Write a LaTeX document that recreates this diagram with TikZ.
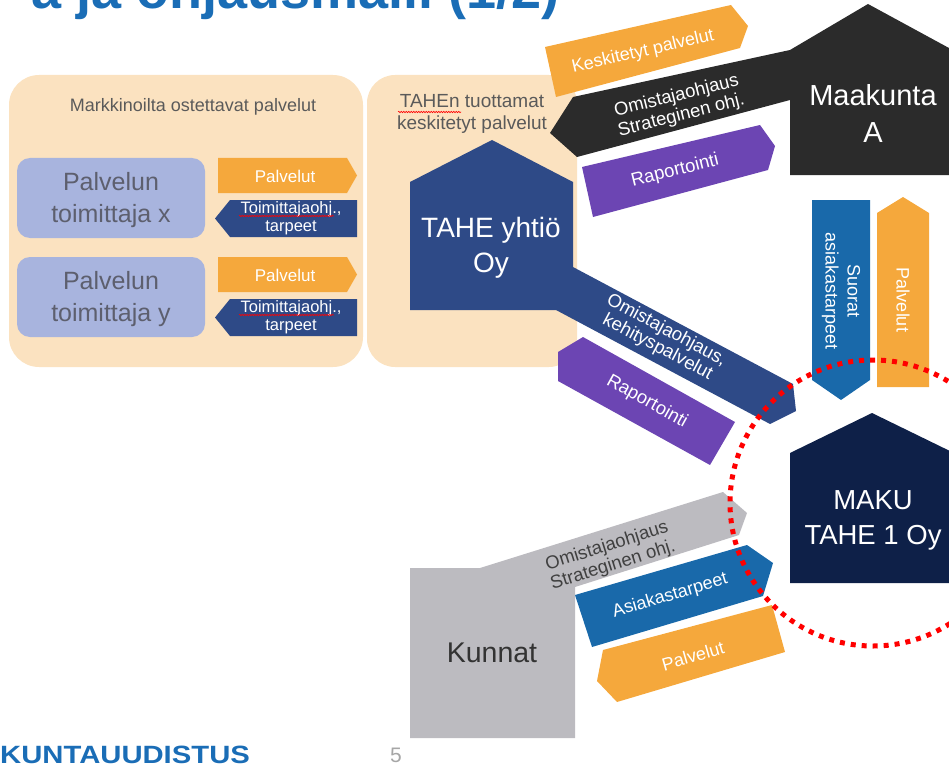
\documentclass[tikz,border=0pt]{standalone}
\usepackage{fontspec}
\setmainfont{Liberation Sans}
\usetikzlibrary{decorations.pathmorphing}

\definecolor{peach}{HTML}{FBE2C0}
\definecolor{lavender}{HTML}{A8B4DE}
\definecolor{oranssi}{HTML}{F5A83C}
\definecolor{tahenavy}{HTML}{2E4A87}
\definecolor{makunavy}{HTML}{0E2048}
\definecolor{violetti}{HTML}{6C45B3}
\definecolor{sininen}{HTML}{1969AA}
\definecolor{musta}{HTML}{2B2B2B}
\definecolor{harmaa}{HTML}{BCBBC0}
\definecolor{otsikko}{HTML}{1A6DB6}
\definecolor{tekstiharmaa}{HTML}{5A5A5A}
\definecolor{toimharmaa}{HTML}{5D5F6E}
\definecolor{sivuharmaa}{HTML}{A6A6A6}

\newcommand{\fs}[2]{\fontsize{#1}{#2}\selectfont}

\begin{document}
\begin{tikzpicture}[x=1pt,y=-1pt,
    lbl/.style={inner sep=0pt, align=center, text=white},
    wavy/.style={red, line width=0.6pt, decorate,
      decoration={snake, amplitude=0.7pt, segment length=2.5pt}}]
  \useasboundingbox (0,0) rectangle (949,770);
  \clip (0,0) rectangle (949,770);

  % otsikko, vain alareuna nakyy
  \node[anchor=base east, inner sep=0pt, text=otsikko, font=\bfseries\fs{54}{54}] (otsikko) at (560,9) {a ja ohjausmalli (1/2)};

  % markkinoilta ostettavat palvelut
  \fill[peach, rounded corners=30] (9,75) rectangle (363,367);
  \node[lbl, text=tekstiharmaa, font=\fs{18}{21}] (markkinat) at (193,107) {Markkinoilta ostettavat palvelut};
  \foreach \dy/\nm in {0/x,99/y} {
    \fill[lavender, rounded corners=13] (17,158+\dy) rectangle (205,238+\dy);
    \node[lbl, text=toimharmaa, font=\fs{25}{32}] (toim\nm) at (111,200+\dy) {Palvelun\\toimittaja \nm};
    \fill[oranssi] (218,158+\dy) -- (347,158+\dy) -- (357,175.5+\dy) -- (347,193+\dy) -- (218,193+\dy) -- cycle;
    \node[lbl, font=\fs{17}{17}] (palv\nm) at (285,176+\dy) {Palvelut};
    \fill[tahenavy] (230,200+\dy) -- (357,200+\dy) -- (357,237+\dy) -- (230,237+\dy) -- (215,218.5+\dy) -- cycle;
    \node[lbl, font=\fs{16.5}{18.5}] (ohj\nm) at (291,218+\dy) {Toimittajaohj.,\\tarpeet};
    \draw[wavy] (239,216+\dy) -- (334,216+\dy);
  }

  % TAHEn tuottamat keskitetyt palvelut
  \fill[peach, rounded corners=28] (367,75) rectangle (577,367);
  \node[lbl, text=tekstiharmaa, font=\fs{19}{22}] (keskitetyt) at (472,114) {TAHEn tuottamat\\keskitetyt palvelut};
  \draw[wavy] (398,112) -- (461,112);

  % TAHE yhtio Oy ja sen ohjausnuoli
  \fill[tahenavy] (410,310) -- (410,182) -- (492,140) -- (573,182) -- (573,267) -- (793,384) -- (796,411) -- (770,424) -- (556,310) -- cycle;
  \node[lbl, font=\fs{28}{35}] (tahe) at (491,248) {TAHE yhtiö\\Oy};
  \node[lbl, font=\fs{18.5}{19}, rotate=-28] (kehitys) at (662,339) {Omistajaohjaus,\\kehityspalvelut};
  \fill[violetti] (583,337) -- (735,422) -- (710,465) -- (558,381) -- (558,352) -- cycle;
  \node[lbl, font=\fs{18.5}{18.5}, rotate=-29] (raportA) at (647,402) {Raportointi};

  % Maakunta A
  \fill[oranssi] (545,47) -- (731,5) -- (748,26) -- (740,48) -- (556,97) -- cycle;
  \node[lbl, font=\fs{18}{18}, rotate=13] (keskpalv) at (643,52) {Keskitetyt palvelut};
  \fill[musta] (790,175) -- (790,100) -- (577,157) -- (550,133) -- (573,97) -- (790,50) -- (868,4) -- (960,54) -- (960,175) -- cycle;
  \node[lbl, font=\fs{29}{37}] (maakunta) at (873,113) {Maakunta\\A};
  \node[lbl, font=\fs{18.5}{20}, rotate=14] (ohjausA) at (679,106) {Omistajaohjaus\\Strateginen ohj.};
  \fill[violetti] (582,167) -- (760,125) -- (775,146) -- (768,170) -- (593,217) -- cycle;
  \node[lbl, font=\fs{18.5}{18.5}, rotate=14] (raportB) at (675,171) {Raportointi};

  % pystynuolet
  \fill[sininen] (812,200) -- (870,200) -- (870,380) -- (841,400) -- (812,380) -- cycle;
  \node[lbl, font=\fs{18}{22}, rotate=-90] (suorat) at (841,291) {Suorat\\asiakastarpeet};
  \fill[oranssi] (877,387) -- (877,213) -- (903,197) -- (929,213) -- (929,387) -- cycle;
  \node[lbl, font=\fs{18}{18}, rotate=-90] (palvM) at (903,300) {Palvelut};

  % MAKU TAHE 1 Oy
  \fill[makunavy] (790,583) -- (790,453) -- (872,413) -- (954,453) -- (954,583) -- cycle;
  \node[lbl, font=\fs{27.5}{35}] (maku) at (873,520) {MAKU\\TAHE 1 Oy};

  % Kunnat
  \fill[harmaa] (410,738) -- (410,568) -- (480,568) -- (723,492) -- (747,513) -- (739,535) -- (575,587) -- (575,738) -- cycle;
  \node[lbl, text=black!80, font=\fs{28.5}{28.5}] (kunnat) at (492,653) {Kunnat};
  \node[lbl, text=black!75, font=\fs{18.5}{20}, rotate=17.5] (ohjausK) at (610,556) {Omistajaohjaus\\Strateginen ohj.};
  \fill[sininen] (575,595) -- (747,545) -- (773,563) -- (763,596) -- (592,647) -- cycle;
  \node[lbl, font=\fs{18}{18}, rotate=16.5] (asiakas) at (670,596) {Asiakastarpeet};
  \fill[oranssi] (603,650) -- (772,605) -- (785,652) -- (617,702) -- (597,681) -- cycle;
  \node[lbl, font=\fs{18}{18}, rotate=16] (palvK) at (693,656) {Palvelut};

  % punainen katkoviivaympyra
  \draw[red, line width=5pt, dash pattern=on 5pt off 6pt] (873,503) circle[radius=143];

  % alatunniste
  \node[anchor=base west, inner sep=0pt, text=otsikko, font=\bfseries\fs{25}{25}] (logo) at (0,763) {\scalebox{1.17}[1]{KUNTAUUDISTUS}};
  \node[inner sep=0pt, text=sivuharmaa, font=\fs{21}{21}] (sivu) at (396,755) {5};
\end{tikzpicture}
\end{document}
